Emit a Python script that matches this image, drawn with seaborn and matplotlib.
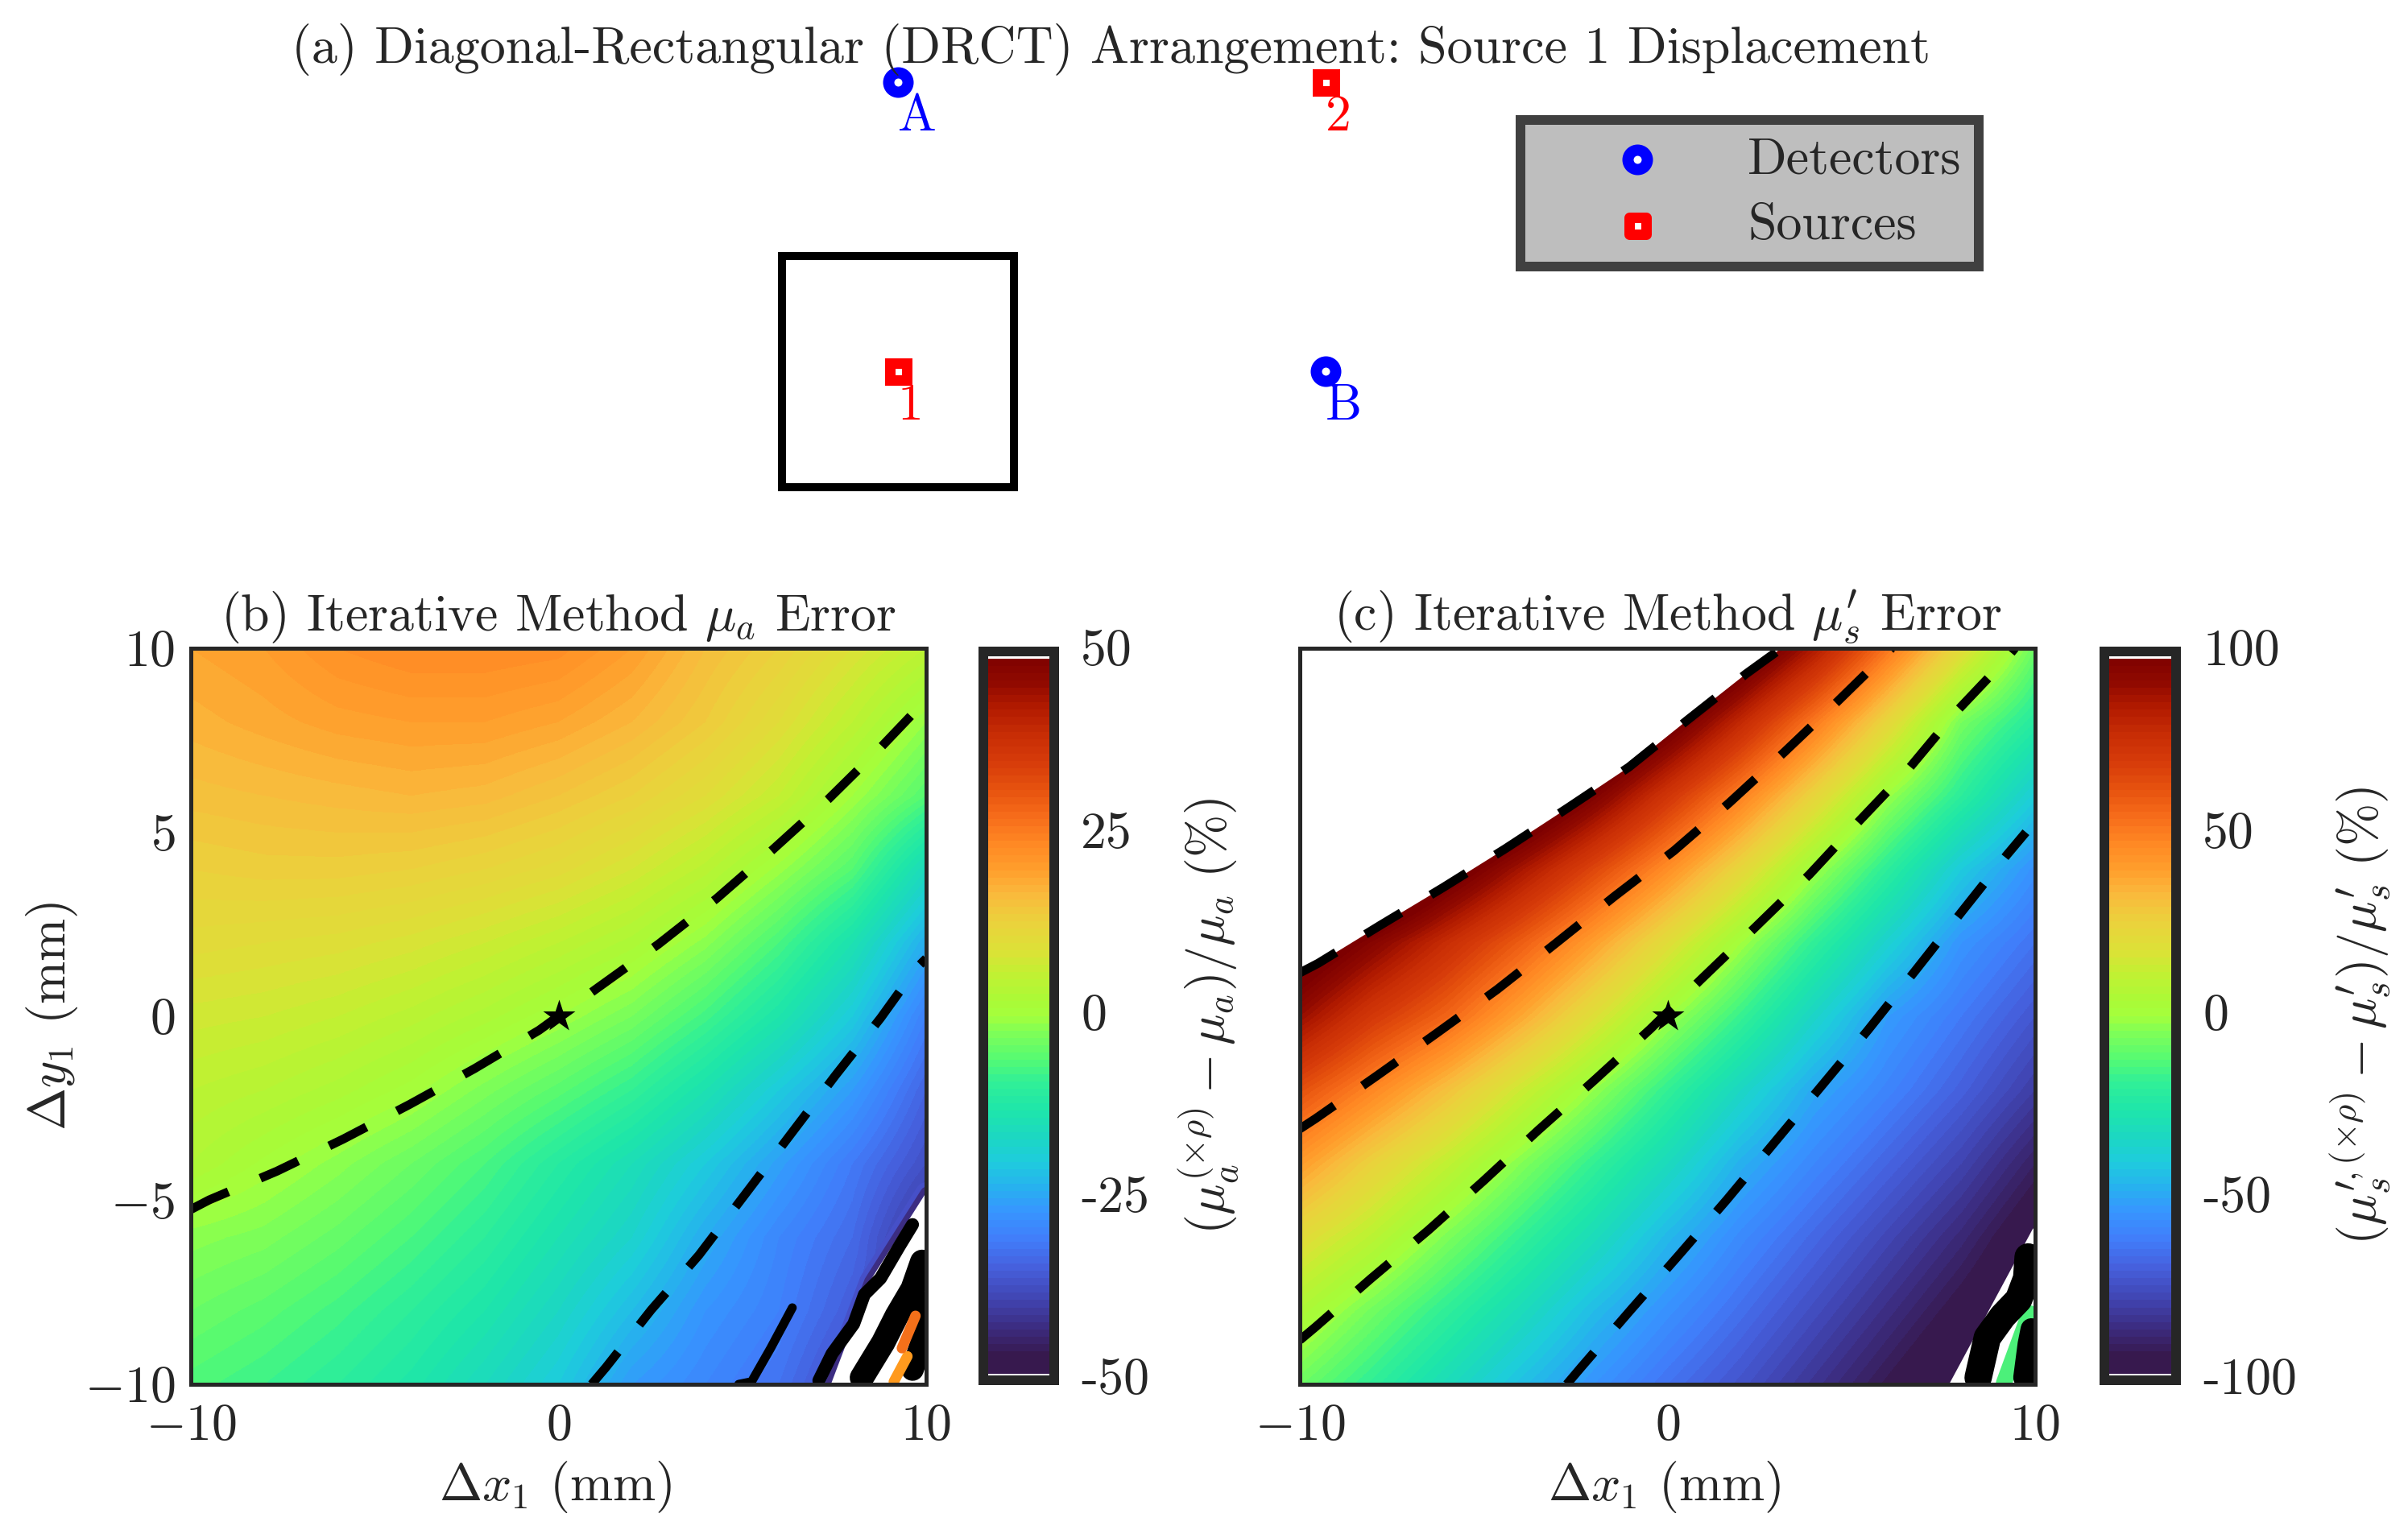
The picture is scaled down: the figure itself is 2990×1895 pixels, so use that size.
import numpy as np
import pandas as pd
import matplotlib
matplotlib.use('Agg')
import matplotlib.pyplot as plt
from matplotlib.colors import LinearSegmentedColormap
from matplotlib.patches import Rectangle
from matplotlib.transforms import ScaledTranslation
import seaborn as sns

sns.set_theme(style='white')
plt.rcParams['font.family'] = ['cmr10', 'DejaVu Sans']
plt.rcParams['mathtext.fontset'] = 'cm'
plt.rcParams['axes.unicode_minus'] = False
plt.rcParams['axes.formatter.use_mathtext'] = True

W, H, DPI = 2990, 1895, 200
PT = 72 / DPI  # one pixel in points
DARK = '#262626'
FS = 23

# probe arrangement (mm)
det_x = [0, 36.9]
det_y = [25, 0]
det_names = ['A', 'B']
src_x = [0, 36.9]
src_y = [0, 25]
src_names = ['1', '2']
box_x = [-10, 10]
box_y = [-10, 10]

x_ticks = [-10, 0, 10]
y_ticks = [-10, -5, 0, 5, 10]

# colour bar, bottom to top (fraction of the range)
cbar_pos = [0.0, 0.03, 0.07, 0.11, 0.15, 0.19, 0.23, 0.26, 0.30, 0.33, 0.37, 0.41, 0.44, 0.48, 0.50,
            0.52, 0.56, 0.59, 0.63, 0.67, 0.70, 0.74, 0.78, 0.81, 0.85, 0.89, 0.93, 0.96, 1.0]
cbar_rgb = ['#37194E', '#37194E', '#3C2D82', '#4146B4', '#465FDC', '#417DFA', '#3796FF', '#28AFF0',
            '#1ECDDC', '#1CD7C3', '#1EE6AA', '#32F096', '#55FA73', '#82FF55', '#A5FF3C',
            '#AAFA37', '#C3F032', '#DCE137', '#EBD23C', '#FAB93C', '#FFA02D', '#FF8723', '#F56919',
            '#E8550F', '#D73C0A', '#C82D05', '#AF1900', '#910A00', '#7D0000']

# grid for both maps: x = -10..10 step 2 (columns), y = -10..10 step 2 (rows, first row y=-10)
err_mua = [
    [-6.5, -8, -10, -12.5, -16, -20, -26, -29, -32, -38, -40],
    [-4, -5.5, -7.5, -10, -13, -17, -22, -27, -30, -35, -40],
    [-1.5, -2.5, -4.5, -7, -10, -14, -18, -24, -29, -33, -42],
    [3, 0.7, -1.5, -4, -7, -11, -15, -20, -25.5, -31, -37],
    [5, 4, 2.5, 0.5, -2.5, -5.5, -9, -14, -20, -26, -34],
    [7.5, 7, 6, 4.5, 2.5, 0, -3, -7.5, -13, -20, -30],
    [10.5, 10, 9.5, 8.5, 7, 5, 2.5, -1.5, -7, -14, -24],
    [13, 13.5, 13.5, 13, 12, 10.5, 8, 4.5, -0.5, -6, -16],
    [15.5, 16, 16.5, 17, 16.5, 15, 13, 10, 6, 0, -6],
    [17.5, 18.5, 19.5, 20, 20, 19, 17, 14, 10, 5, -1],
    [19, 20, 22, 23, 23, 22.5, 20, 16, 13, 9, 5],
]
err_mus = [
    [-7.6, -19, -31, -43, -54, -64, -73, -83, -93, -103, -110],
    [5.5, -7, -19, -31, -44, -55, -65, -75, -85, -95, -105],
    [21, 9, -5, -18, -31, -45, -57, -67, -77, -87, -99],
    [41, 25, 11, -4, -18, -32, -47, -58, -68, -78, -90],
    [63, 47, 31, 14, -2, -18, -34, -49, -59, -69, -80],
    [90, 71, 56.6, 38, 19, 0, -17, -35, -52, -62, -72],
    [113, 95, 77, 59, 40, 20, 0, -19, -37, -54, -64],
    [155, 132, 108, 87, 66, 45, 23, 0, -20, -40, -55],
    [195, 170, 145, 121, 98, 73, 49, 24, -1, -20, -39],
    [230, 205, 180, 155, 130, 106, 79, 51, 23, -6, -22],
    [260, 235, 210, 185, 160, 137, 113, 85, 52, 21, -8],
]

# dashed contours: mu_a panel
mua_c0_x = [-10, -9.5, -7.66, -5.86, -4.04, -2.28, -0.53, 1.09, 2.72, 4.3, 5.84, 7.33, 8.76, 10]
mua_c0_y = [-5.25, -4.99, -4.21, -3.34, -2.39, -1.42, -0.38, 0.79, 1.96, 3.2, 4.54, 5.89, 7.3, 8.6]
mua_c25_x = [0.9, 1.29, 2.52, 3.82, 5.06, 6.29, 7.53, 8.76, 9.74, 10]
mua_c25_y = [-10, -9.54, -7.98, -6.49, -4.86, -3.24, -1.61, -0.05, 1.31, 1.57]
mua_stub_x = [4.9, 5.25, 5.77, 6.36]
mua_stub_y = [-10, -9.93, -9.02, -7.92]

# mu_s' panel
mus_c100_x = [-10, -9.5, -7.8, -6.1, -4.4, -2.7, -1.05, 0.57, 2.13, 3.1]
mus_c100_y = [1.18, 1.44, 2.48, 3.5, 4.56, 5.67, 6.77, 8.07, 9.3, 10]
mus_c50_x = [-10, -9.57, -7.88, -6.25, -4.63, -3.03, -1.44, 0.18, 1.68, 3.17, 4.6, 5.9, 6.1]
mus_c50_y = [-3.06, -2.78, -1.6, -0.44, 0.73, 1.99, 3.26, 4.5, 5.8, 7.17, 8.53, 9.8, 10]
mus_c0_x = [-10, -9.57, -8.08, -6.5, -5.0, -3.52, -1.99, -0.47, 0.9, 2.39, 3.86, 5.19, 6.55, 7.85, 9.15, 9.45]
mus_c0_y = [-8.8, -8.44, -7.14, -5.81, -4.47, -3.1, -1.74, -0.35, 0.99, 2.42, 3.85, 5.28, 6.71, 8.27, 9.64, 10]
mus_cm50_x = [-2.74, -2.35, -1, 0.31, 1.61, 2.91, 4.21, 5.45, 6.75, 7.98, 9.22, 9.75]
mus_cm50_y = [-10, -9.54, -7.98, -6.49, -4.99, -3.43, -1.87, -0.38, 1.25, 2.81, 4.37, 5.0]

# white (no solution) regions
mua_white_x = [7.41, 8.47, 10, 10]
mua_white_y = [-10, -7.2, -4.79, -10]
mus_white_x = [-10, -9.5, -7.8, -6.1, -4.4, -2.7, -1.05, 0.57, 2.13, 3.1, -10]
mus_white_y = [1.18, 1.44, 2.48, 3.5, 4.56, 5.67, 6.77, 8.07, 9.3, 10, 10]
mus_low_x = [7.66, 9.94, 10, 10]
mus_low_y = [-10, -5.77, -5.77, -10]

# noisy strokes in the lower right corners: x, y, width in px
mua_strokes = [
    ([7.08, 7.44, 8.03, 8.32, 8.76, 9.27, 9.63], [-9.9, -9.17, -8.36, -7.56, -7.12, -6.25, -5.66], 16),
    ([8.25, 8.83, 9.2, 9.63, 9.89], [-9.82, -8.87, -8.14, -7.41, -6.67], 30),
    ([9.63, 9.92, 9.96], [-9.6, -8.73, -7.78], 28),
]
mua_strips = [
    ([9.12, 9.49], [-9.93, -9.24], '#FF9A1E'),
    ([9.34, 9.71], [-9.02, -8.14], '#F4701A'),
]
mus_strokes = [
    ([8.45, 8.7, 9.12, 9.55, 9.77, 9.81], [-9.82, -8.73, -8.15, -7.7, -7.12, -6.54], 34),
    ([9.7, 9.82, 9.9], [-9.82, -8.9, -8.5], 27),
]
mus_strips = [
    ([9.15, 9.85], [-9.97, -8.07], '#4CF07A'),
]


def px_rect(x0, y0, x1, y1):
    return [x0 / W, 1 - y1 / H, (x1 - x0) / W, (y1 - y0) / H]


def dashed(ax, x, y):
    sns.lineplot(x=x, y=y, sort=False, estimator=None, color='black', lw=11 * PT, zorder=5,
                 linestyle=(0, (4.7, 3.9)), dash_capstyle='butt', ax=ax, legend=False)


def solid(ax, x, y, width, color='black', zorder=5):
    sns.lineplot(x=x, y=y, sort=False, estimator=None, color=color, lw=width * PT, zorder=zorder,
                 solid_capstyle='round', ax=ax, legend=False)


def draw_map(ax, cax, grid, limit, cbar_ticks, cbar_labels, title, cbar_label, label_pad):
    df = pd.DataFrame(grid)
    cmap = LinearSegmentedColormap.from_list('picked', list(zip(cbar_pos, cbar_rgb)), N=100)
    sns.heatmap(df, ax=ax, cbar_ax=cax, cmap=cmap, vmin=-limit, vmax=limit,
                xticklabels=False, yticklabels=False)
    # grid points sit at -10..10, so the image reaches one cell further and the axes crop it
    ax.imshow(df.to_numpy(), origin='lower', extent=(-11, 11, -11, 11), cmap=cmap, vmin=-limit, vmax=limit,
              interpolation='bilinear', interpolation_stage='data', aspect='auto', zorder=1)
    ax.collections[0].set_visible(False)
    ax.set_xlim(-10, 10)
    ax.set_ylim(-10, 10)
    ax.set_xticks(x_ticks)
    ax.set_yticks(y_ticks)
    ax.set_xticklabels([f'${v}$' for v in x_ticks], fontsize=FS, color=DARK)
    ax.set_yticklabels([f'${v}$' for v in y_ticks], fontsize=FS, color=DARK)
    ax.tick_params(axis='x', length=0, pad=8.5)
    ax.tick_params(axis='y', length=0, pad=7)
    ax.set_xlabel(r'$\Delta x_1$ (mm)', fontsize=FS, color=DARK, labelpad=4, x=0.496)
    ax.set_title(title, fontsize=FS, pad=8)
    for sp in ax.spines.values():
        sp.set_visible(True)
        sp.set_linewidth(5 * PT)
        sp.set_color(DARK)
        sp.set_zorder(20)

    cb = ax.collections[0].colorbar
    cb.outline.set_linewidth(12 * PT)
    cb.outline.set_edgecolor(DARK)
    cb.set_ticks(cbar_ticks)
    cb.set_ticklabels(cbar_labels)
    cax.tick_params(direction='in', right=True, length=14 * PT, width=12 * PT, color=DARK,
                    labelsize=FS, labelcolor=DARK, pad=12)
    up = ScaledTranslation(0, 5 / DPI, fig.dpi_scale_trans)
    for t in cax.get_yticklabels():
        t.set_transform(t.get_transform() + up)
    cb.set_label(cbar_label, fontsize=FS, color=DARK, labelpad=label_pad)
    for v in (-0.984 * limit, 0.984 * limit):
        cax.axhline(v, color='white', lw=3 * PT)


fig = plt.figure(figsize=(W / DPI, H / DPI), dpi=DPI, facecolor='white')

# (a) arrangement
ax_a = fig.add_axes(px_rect(769, 2, 2497, 662))
ax_a.add_patch(Rectangle((box_x[0], box_y[0]), box_x[1] - box_x[0], box_y[1] - box_y[0],
                         fill=False, edgecolor='black', lw=10 * PT))
sns.scatterplot(x=det_x, y=det_y, marker='o', s=(24 * PT) ** 2, color='white', edgecolor='blue',
                linewidth=14 * PT, label='Detectors', ax=ax_a, zorder=5, clip_on=False)
sns.scatterplot(x=src_x, y=src_y, marker='s', s=(21 * PT) ** 2, color='white', edgecolor='red',
                linewidth=13 * PT, label='Sources', ax=ax_a, zorder=5, clip_on=False, joinstyle='miter')
for x, y, name in zip(det_x, det_y, det_names):
    ax_a.annotate(name, (x, y), xytext=(0, -44 * PT), textcoords='offset points',
                  color='blue', fontsize=FS, ha='left', va='center', zorder=6)
for x, y, name in zip(src_x, src_y, src_names):
    ax_a.annotate(name, (x, y), xytext=(0, -44 * PT), textcoords='offset points',
                  color='red', fontsize=FS, ha='left', va='center', zorder=6)
ax_a.set_xlim(-24, 96)
ax_a.set_ylim(-14, 32)
ax_a.axis('off')
leg = ax_a.legend(loc='upper left', bbox_to_anchor=(1888 / W, 1 - 149 / H), bbox_transform=fig.transFigure,
                  borderaxespad=0, fontsize=FS, handlelength=3.87, handletextpad=0.22, borderpad=0.33,
                  labelspacing=0.375, fancybox=False, framealpha=1, facecolor='#BEBEBE', edgecolor='#404040')
leg.get_frame().set_linewidth(12 * PT)
fig.text(1380 / W, 1 - 62 / H, '(a) Diagonal-Rectangular (DRCT) Arrangement: Source 1 Displacement',
         fontsize=23.06, ha='center', va='center')

# (b) mu_a
ax_b = fig.add_axes(px_rect(237, 805, 1150, 1719))
cax_b = fig.add_axes(px_rect(1221, 809, 1309, 1714))
draw_map(ax_b, cax_b, err_mua, 50, [-50, -25, 0, 25, 50], ['-50', '-25', '0', '25', '50'],
         r'(b) Iterative Method $\mu_a$ Error', r'$(\mu_a^{(\times\rho)}-\mu_a)/\mu_a\ (\%)$', 12)
ax_b.set_ylabel(r'$\Delta y_1$ (mm)', fontsize=FS, color=DARK, labelpad=2)
# the colour falls off fast along the edge of the white area
solid(ax_b, mua_white_x[:3], mua_white_y[:3], 14, '#3C2D82', zorder=2.6)
solid(ax_b, mua_white_x[:3], mua_white_y[:3], 26, '#4650C8', zorder=2.5)
ax_b.fill(mua_white_x, mua_white_y, color='white', lw=0, zorder=3)
dashed(ax_b, mua_c0_x, mua_c0_y)
dashed(ax_b, mua_c25_x, mua_c25_y)
solid(ax_b, mua_stub_x, mua_stub_y, 11)
for sx, sy, sw in mua_strokes:
    solid(ax_b, sx, sy, sw)
for sx, sy, sc in mua_strips:
    solid(ax_b, sx, sy, 13, sc, zorder=6)
sns.scatterplot(x=[0], y=[0], marker='*', s=(42 * PT) ** 2, color='black', linewidth=0, ax=ax_b, zorder=6)

# (c) mu_s'
ax_c = fig.add_axes(px_rect(1614, 805, 2527, 1719))
cax_c = fig.add_axes(px_rect(2613, 809, 2702, 1714))
draw_map(ax_c, cax_c, err_mus, 100, [-100, -50, 0, 50, 100], ['-100', '-50', '0', '50', '100'],
         r"(c) Iterative Method $\mu_s^{\prime}$ Error",
         r"$(\mu_s^{\prime,(\times\rho)}-\mu_s^{\prime})/\mu_s^{\prime}\ (\%)$", 14)
ax_c.set_yticklabels([])
ax_c.fill(mus_white_x, mus_white_y, color='white', lw=0, zorder=3)
ax_c.fill(mus_low_x, mus_low_y, color='white', lw=0, zorder=3)
dashed(ax_c, mus_c100_x, mus_c100_y)
dashed(ax_c, mus_c50_x, mus_c50_y)
dashed(ax_c, mus_c0_x, mus_c0_y)
dashed(ax_c, mus_cm50_x, mus_cm50_y)
for sx, sy, sc in mus_strips:
    solid(ax_c, sx, sy, 20, sc, zorder=4)
for sx, sy, sw in mus_strokes:
    solid(ax_c, sx, sy, sw)
sns.scatterplot(x=[0], y=[0], marker='*', s=(42 * PT) ** 2, color='black', linewidth=0, ax=ax_c, zorder=6)

fig.savefig('out.png', dpi=DPI)
